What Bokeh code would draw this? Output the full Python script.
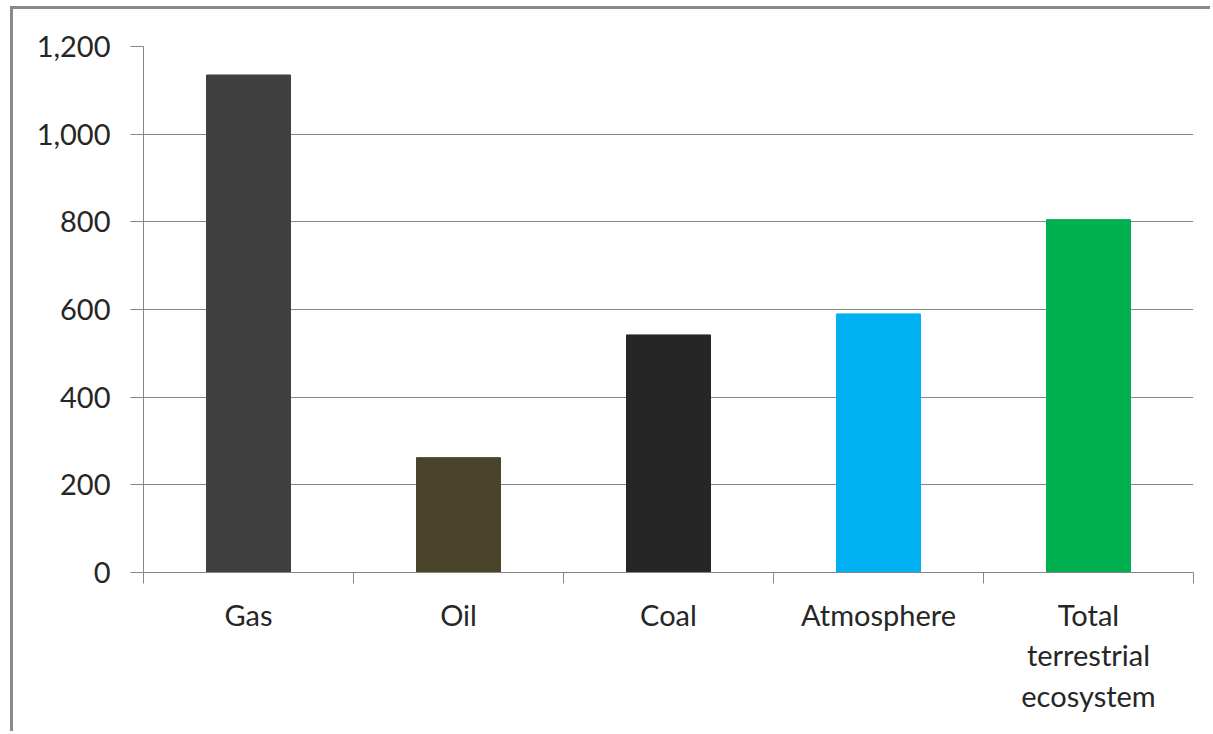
from bokeh.plotting import figure
from bokeh.models import FixedTicker, Range1d, ColumnDataSource
from bokeh.embed import file_html
from bokeh.resources import INLINE

categories = ["Gas", "Oil", "Coal", "Atmosphere", "Total\nterrestrial\necosystem"]
values = [1135, 262, 542, 590, 805]
colors = ["#404040", "#4a452a", "#262626", "#00b0f0", "#00b050"]
y_ticks = [0, 200, 400, 600, 800, 1000, 1200]

centers = [i + 0.5 for i in range(len(categories))]
bounds = list(range(len(categories) + 1))

src = ColumnDataSource(dict(x=centers, top=values, color=colors))

p = figure(width=1200, height=725, output_backend="svg", toolbar_location=None,
           x_range=Range1d(0, len(categories)), y_range=Range1d(0, 1200),
           min_border_left=130, min_border_right=20, min_border_top=37, min_border_bottom=162)
p.styles = {"border-left": "3px solid #8a8a8a", "border-top": "3px solid #8a8a8a",
            "margin-left": "10px", "margin-top": "6px"}
p.outline_line_color = None

p.vbar(x="x", top="top", width=0.4, color="color", source=src)

font = "Lato"
fs = "29px"
# x axis
p.xaxis.ticker = FixedTicker(ticks=centers, minor_ticks=bounds)
p.xaxis.major_label_overrides = {c: lab for c, lab in zip(centers, categories)}
p.xaxis.major_tick_line_color = None
p.xaxis.major_tick_out = 0
p.xaxis.major_tick_in = 0
p.xaxis.minor_tick_out = 11
p.xaxis.minor_tick_in = 0
p.xaxis.minor_tick_line_color = "#868686"
p.xaxis.axis_line_color = "#868686"
p.xaxis.major_label_standoff = 13
p.xaxis.major_label_text_font = font
p.xaxis.major_label_text_font_size = fs
p.xaxis.major_label_text_color = "#262626"
p.xaxis.major_label_text_line_height = 1.16
p.xgrid.grid_line_color = None

# y axis
p.yaxis.ticker = FixedTicker(ticks=y_ticks)
p.yaxis.major_label_overrides = {v: f"{v:,}" for v in y_ticks}
p.yaxis.minor_tick_line_color = None
p.yaxis.major_tick_out = 13
p.yaxis.major_tick_in = 0
p.yaxis.major_tick_line_color = "#868686"
p.yaxis.axis_line_color = "#868686"
p.yaxis.major_label_standoff = 20
p.yaxis.major_label_text_font = font
p.yaxis.major_label_text_font_size = fs
p.yaxis.major_label_text_color = "#262626"
p.ygrid.grid_line_color = "#868686"
p.ygrid.grid_line_width = 1

open("out.html", "w").write(file_html(p, INLINE))
